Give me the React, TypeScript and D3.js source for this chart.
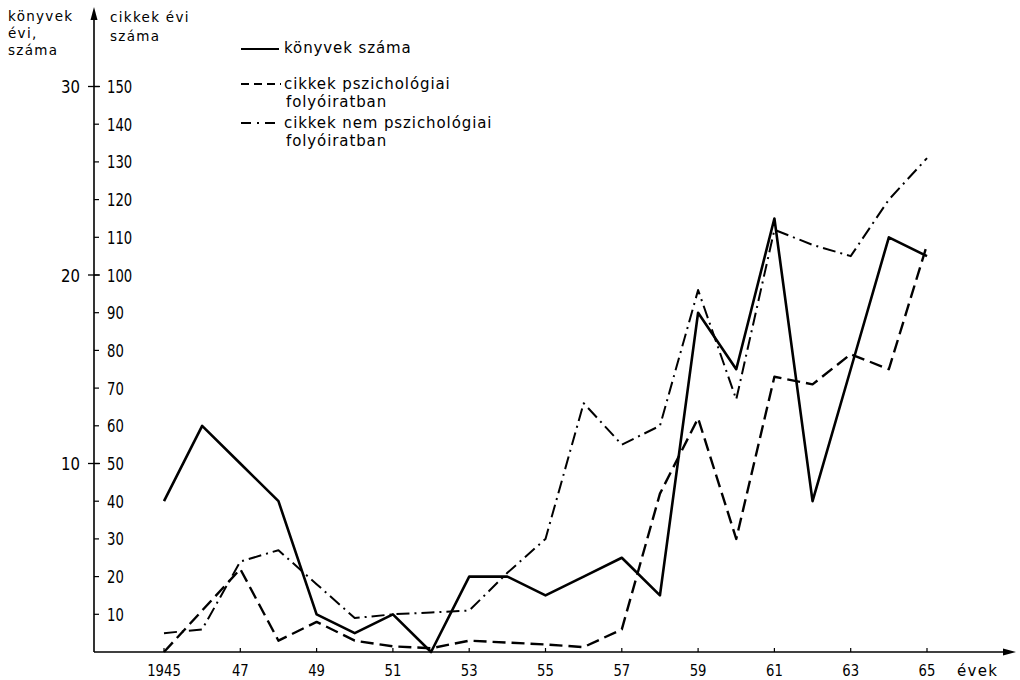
import * as d3 from 'd3';

// years on the x axis
const years = [1945, 1946, 1947, 1948, 1949, 1950, 1951, 1952, 1953, 1954, 1955, 1956, 1957, 1958, 1959, 1960, 1961, 1962, 1963, 1964, 1965];
// könyvek száma (left scale, 0-30)
const books = [8, 12, 10, 8, 2, 1, 2, 0, 4, 4, 3, 4, 5, 3, 18, 15, 23, 8, 15, 22, 21];
// cikkek pszichológiai folyóiratban (right scale, 0-150)
const psych = [0, 11, 22, 3, 8, 3, 1.5, 1, 3, 2.5, 2, 1.3, 6, 42, 62, 30, 73, 71, 79, 75, 108];
// cikkek nem pszichológiai folyóiratban
const nonPsych = [5, 6, 24, 27, 18, 9, 10, 10.5, 11, 21, 30, 66, 55, 60, 96, 67, 112, 108, 105, 120, 131];

const xTicks = [1945, 1947, 1949, 1951, 1953, 1955, 1957, 1959, 1961, 1963, 1965];
const xTickLabels = ['1945', '47', '49', '51', '53', '55', '57', '59', '61', '63', '65'];
const bookTicks = [10, 20, 30];
const articleTicks = [10, 20, 30, 40, 50, 60, 70, 80, 90, 100, 110, 120, 130, 140, 150];

const numFont = "'DejaVu Sans', 'Noto Sans', sans-serif";
const textFont = "'DejaVu Sans', 'Noto Sans', sans-serif";

export default function App() {
  const width = 1020;
  const height = 680;
  const axisX = 94;
  const baseY = 652;

  const x = d3.scaleLinear().domain([1945, 1965]).range([164, 927]);
  const yA = d3.scaleLinear().domain([0, 150]).range([baseY, 86.5]);
  const yB = d3.scaleLinear().domain([0, 30]).range([baseY, 86.5]);

  const lineA = d3.line<number>().x((_, i) => x(years[i])).y(d => yA(d));
  const lineB = d3.line<number>().x((_, i) => x(years[i])).y(d => yB(d));

  // narrow digits like the stencil lettering of the original
  const num = (s: string, w: number) => ({ textLength: s.length * w, lengthAdjust: 'spacingAndGlyphs' as const });

  return (
    <svg width={width} height={height} style={{ position: 'absolute', left: 0, top: 0, background: '#fff' }}>
      {/* axes */}
      <g stroke="#000" fill="none">
        <line x1={axisX} y1={baseY} x2={axisX} y2={18} strokeWidth={1.6} />
        <line x1={axisX} y1={baseY} x2={1006} y2={baseY} strokeWidth={1.6} />
      </g>
      <path d={`M${axisX},7 L${axisX - 3.5},20 L${axisX + 3.5},20 Z`} fill="#000" />
      <path d={`M1016,${baseY} L1003,${baseY - 3.5} L1003,${baseY + 3.5} Z`} fill="#000" />

      {/* right (articles) ticks */}
      {articleTicks.map(t => (
        <g key={'a' + t}>
          <line x1={axisX} x2={axisX + 5} y1={yA(t)} y2={yA(t)} stroke="#000" strokeWidth={1.2} />
          <text x={107} y={yA(t) + 6.5} fontFamily={numFont} fontSize={18} {...num(String(t), 8.4)}>{t}</text>
        </g>
      ))}
      {/* left (books) ticks */}
      {bookTicks.map(t => (
        <g key={'b' + t}>
          <line x1={axisX - 6} x2={axisX + 6} y1={yB(t)} y2={yB(t)} stroke="#000" strokeWidth={1.3} />
          <text x={61} y={yB(t) + 6.5} fontFamily={numFont} fontSize={18} {...num(String(t), 9.5)}>{t}</text>
        </g>
      ))}

      {/* x ticks */}
      {xTicks.map((t, i) => {
        const s = xTickLabels[i];
        const w = s.length * 8.4;
        return (
          <g key={'x' + t}>
            <line x1={x(t)} x2={x(t)} y1={baseY} y2={baseY - 4} stroke="#000" strokeWidth={1.2} />
            <text x={x(t) - w / 2} y={676} fontFamily={numFont} fontSize={16} {...num(s, 8.4)}>{s}</text>
          </g>
        );
      })}
      <text x={957} y={676} fontFamily={textFont} fontSize={15} letterSpacing={1.3}>évek</text>

      {/* axis titles */}
      <g fontFamily={textFont} fontSize={13.5} letterSpacing={1.3}>
        <text x={8} y={21}>könyvek</text>
        <text x={8} y={38}>évi,</text>
        <text x={8} y={55}>száma</text>
        <text x={110} y={22}>cikkek évi</text>
        <text x={110} y={41}>száma</text>
      </g>

      {/* legend */}
      <g stroke="#000" fill="none" strokeWidth={2.2}>
        <line x1={241} x2={279} y1={49} y2={49} />
        <line x1={241} x2={281} y1={84} y2={84} strokeDasharray="8 5" />
        <line x1={241} x2={281} y1={123} y2={123} strokeDasharray="10 6 2 6" />
      </g>
      <g fontFamily={textFont} fontSize={15} letterSpacing={0.9}>
        <text x={284} y={53}>könyvek száma</text>
        <text x={284} y={89}>cikkek pszichológiai</text>
        <text x={286} y={107}>folyóiratban</text>
        <text x={284} y={128}>cikkek nem pszichológiai</text>
        <text x={286} y={146}>folyóiratban</text>
      </g>

      {/* series */}
      <path d={lineA(nonPsych) ?? ''} fill="none" stroke="#000" strokeWidth={2} strokeDasharray="13 5 2 5" strokeLinejoin="round" />
      <path d={lineA(psych) ?? ''} fill="none" stroke="#000" strokeWidth={2.4} strokeDasharray="13 6" strokeLinejoin="round" />
      <path d={lineB(books) ?? ''} fill="none" stroke="#000" strokeWidth={2.6} strokeLinejoin="round" />
    </svg>
  );
}
